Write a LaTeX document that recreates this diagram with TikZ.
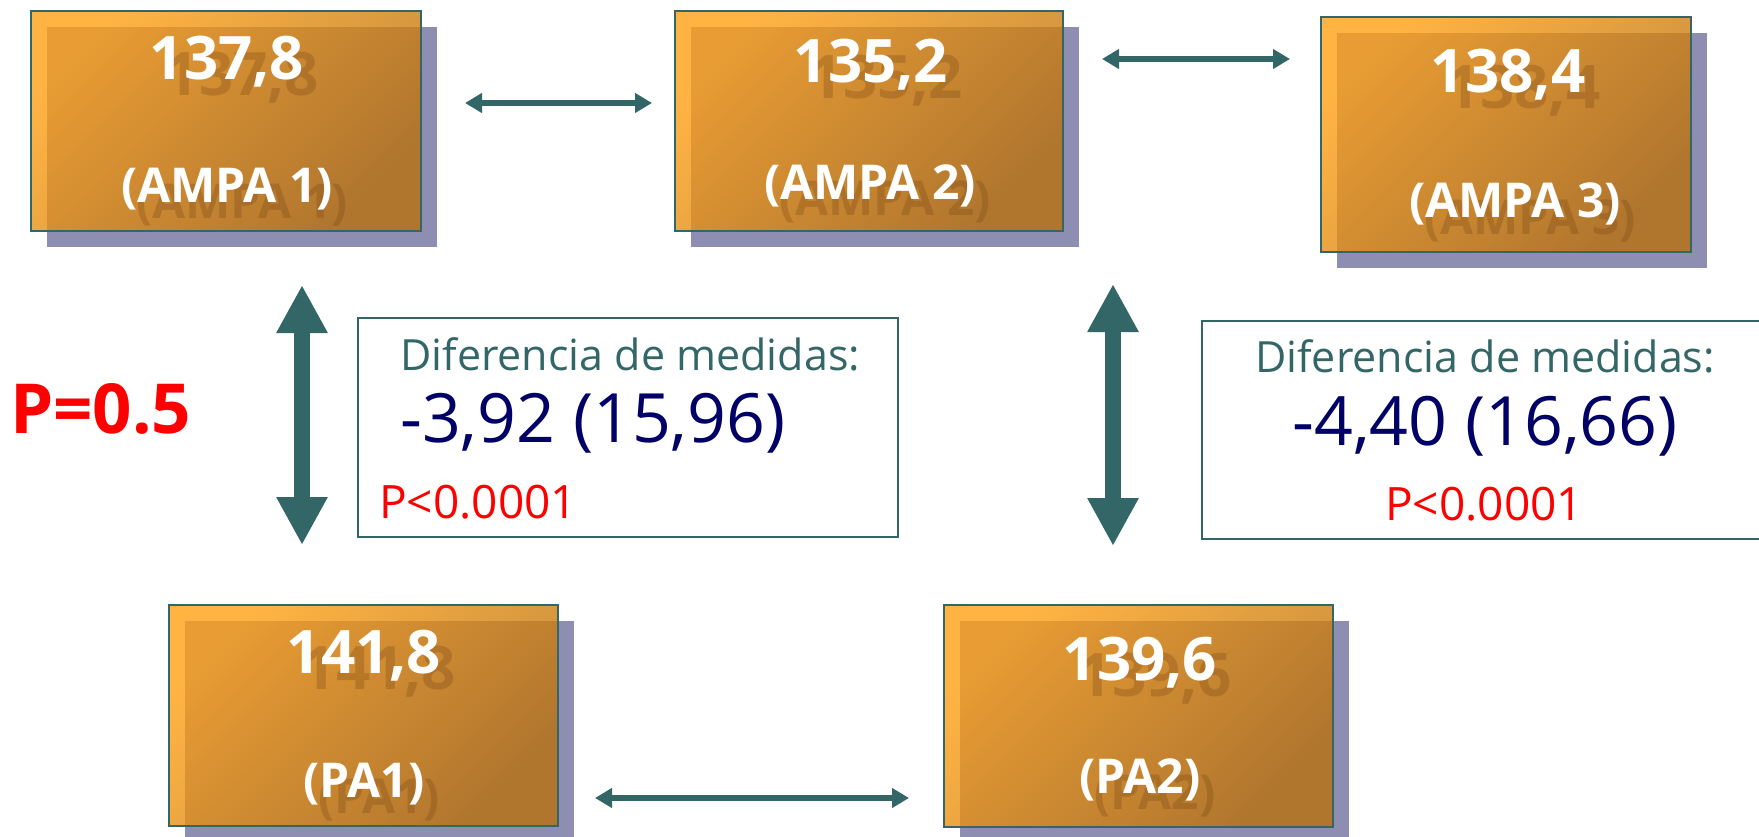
\documentclass[tikz,border=0pt]{standalone}
\usepackage{fontspec}
\setmainfont{Open Sans}
\usetikzlibrary{arrows.meta,shadows}

\definecolor{tealc}{RGB}{51,102,102}
\definecolor{navyc}{RGB}{0,0,102}
\definecolor{redc}{RGB}{255,0,0}
\definecolor{boxlt}{RGB}{255,160,20}
\definecolor{boxdk}{RGB}{185,112,14}
\definecolor{shadowc}{RGB}{142,142,178}
\definecolor{embc}{RGB}{120,70,20}

\begin{document}
\begin{tikzpicture}[x=1pt,y=1pt,yscale=-1,
  valbox/.style={draw=tealc, line width=1.5pt, inner sep=0pt, outer sep=0pt,
    top color=boxlt, bottom color=boxdk, shading angle=45, fill opacity=0.8,
    general shadow={fill=shadowc, fill opacity=1, shadow xshift=16pt, shadow yshift=-16pt}},
  numtxt/.style={anchor=base, inner sep=0pt, text=white, font=\bfseries\fontsize{60}{64}\selectfont},
  labtxt/.style={anchor=base, inner sep=0pt, text=white, font=\bfseries\fontsize{48}{52}\selectfont},
  embossed/.style={text=embc, text opacity=0.3},
  diffbox/.style={draw=tealc, line width=2.5pt, inner sep=0pt, outer sep=0pt},
  headtxt/.style={inner sep=0pt, text=tealc, font=\fontsize{43}{46}\selectfont},
  meantxt/.style={inner sep=0pt, text=navyc, font=\fontsize{68}{72}\selectfont},
  ptxt/.style={inner sep=0pt, text=redc, font=\fontsize{46}{50}\selectfont},
  thinarr/.style={draw=tealc, line width=6pt, {Triangle[length=17pt,width=19pt]}-{Triangle[length=17pt,width=19pt]}},
  thickarr/.style={draw=tealc, line width=16pt, {Triangle[length=48pt,width=48pt]}-{Triangle[length=48pt,width=48pt]}}]
\useasboundingbox (0,0) rectangle (1759,837);

%Value boxes
\node[valbox, minimum width=390pt, minimum height=220pt] (b1) at (226,121) {};
\node[valbox, minimum width=388pt, minimum height=220pt] (b2) at (869,121) {};
\node[valbox, minimum width=370pt, minimum height=235pt] (b3) at (1506,134.5) {};
\node[valbox, minimum width=389pt, minimum height=221pt] (b4) at (363.5,715.5) {};
\node[valbox, minimum width=389pt, minimum height=222pt] (b5) at (1138.5,716) {};

% Text in the boxes (embossed copy first)
\node[numtxt, embossed] at (242,96) {137,8};
\node[numtxt] (v1) at (227,80) {137,8};
\node[labtxt, embossed] at (242,219) {(AMPA 1)};
\node[labtxt] (l1) at (227,203) {(AMPA 1)};

\node[numtxt, embossed] at (886,99) {135,2};
\node[numtxt] (v2) at (871,83) {135,2};
\node[labtxt, embossed] at (885,216) {(AMPA 2)};
\node[labtxt] (l2) at (870,200) {(AMPA 2)};

\node[numtxt, embossed] at (1523,109) {138,4};
\node[numtxt] (v3) at (1508,93) {138,4};
\node[labtxt, embossed] at (1530,234) {(AMPA 3)};
\node[labtxt] (l3) at (1515,218) {(AMPA 3)};

\node[numtxt, embossed] at (379,689) {141,8};
\node[numtxt] (v4) at (364,673) {141,8};
\node[labtxt, embossed] at (379,813) {(PA1)};
\node[labtxt] (l4) at (364,797) {(PA1)};

\node[numtxt, embossed] at (1155,696) {139,6};
\node[numtxt] (v5) at (1140,680) {139,6};
\node[labtxt, embossed] at (1155,809) {(PA2)};
\node[labtxt] (l5) at (1140,793) {(PA2)};

%Difference boxes
\node[diffbox, minimum width=540pt, minimum height=219pt] (d1) at (628,427.5) {};
\node[diffbox, minimum width=573pt, minimum height=218pt] (d2) at (1488.5,430) {};

% Text Node
\node[headtxt, anchor=base west] (h1) at (400,370) {Diferencia de medidas:};
\node[meantxt, anchor=base west] (m1) at (400,442) {-3,92 (15,96)};
\node[ptxt, anchor=base west] (p1) at (379,518) {P<0.0001};
\node[headtxt, anchor=base] (h2) at (1485,372) {Diferencia de medidas:};
\node[meantxt, anchor=base] (m2) at (1485,445) {-4,40 (16,66)};
\node[ptxt, anchor=base] (p2) at (1484,520) {P<0.0001};
\node[anchor=base west, inner sep=0pt, text=redc, font=\bfseries\fontsize{69}{72}\selectfont] (pall) at (10,433) {P=0.5};

%Arrows
\coordinate (a12s) at (465,103);
\coordinate (a12e) at (652,103);
\coordinate (a23s) at (1102,59);
\coordinate (a23e) at (1290,59);
\coordinate (a45s) at (595,798);
\coordinate (a45e) at (909,798);
\coordinate (v14s) at (302,285);
\coordinate (v14e) at (302,545);
\coordinate (v25s) at (1113,284);
\coordinate (v25e) at (1113,546);
\draw[thinarr] (a12s) -- (a12e);
\draw[thinarr] (a23s) -- (a23e);
\draw[thinarr] (a45s) -- (a45e);
\draw[thickarr] (v14s) -- (v14e);
\draw[thickarr] (v25s) -- (v25e);

\end{tikzpicture}
\end{document}
